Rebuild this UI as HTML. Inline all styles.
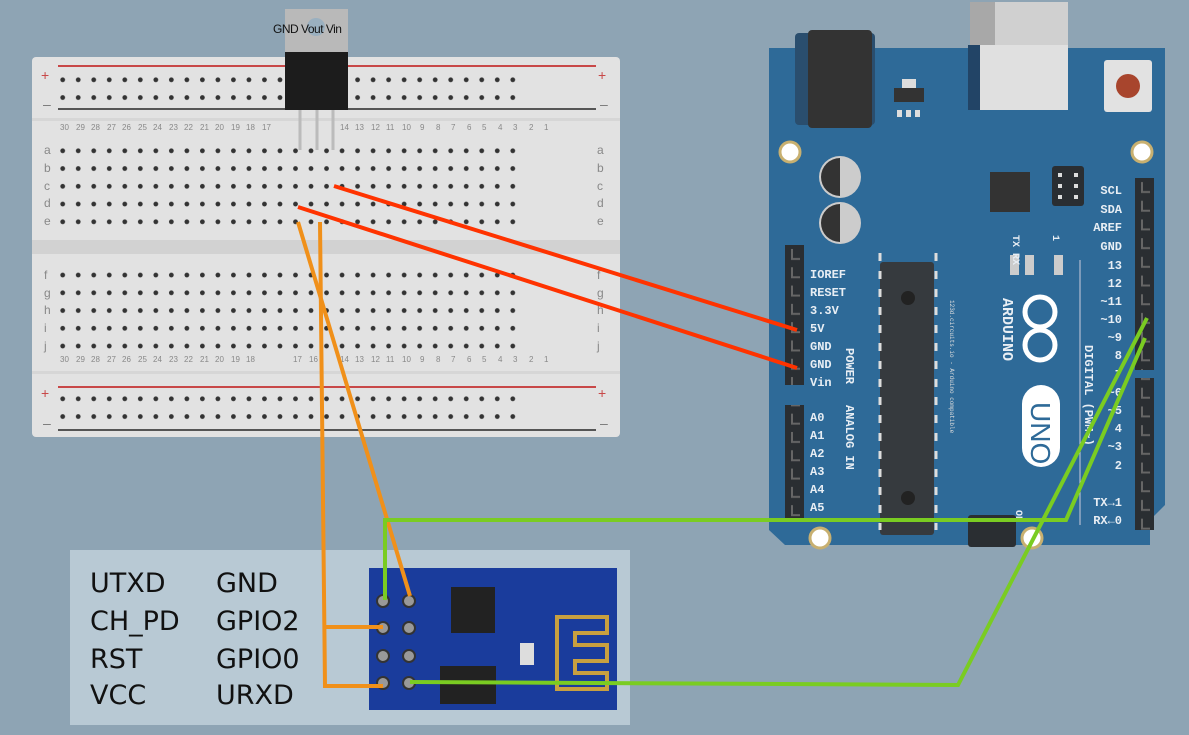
<!DOCTYPE html>
<html><head><meta charset="utf-8"><style>
html,body{margin:0;padding:0;width:1189px;height:735px;overflow:hidden;background:#8ea4b4}
svg{display:block}
.ml{font-family:"Liberation Mono",monospace;font-weight:bold;font-size:12px;fill:#e8eef4}
.nm{font-family:"Liberation Sans",sans-serif;font-size:8px;fill:#888}
.lt{font-family:"Liberation Sans",sans-serif;font-size:12px;fill:#888}
.esp{font-family:"DejaVu Sans","Liberation Sans",sans-serif;font-size:27px;fill:#111}
</style></head><body>
<svg width="1189" height="735" viewBox="0 0 1189 735" xmlns="http://www.w3.org/2000/svg">
<defs>
<pattern id="dots" x="55" y="0" width="15.52" height="17.75" patternUnits="userSpaceOnUse">
<circle cx="7.7" cy="8.8" r="2.4" fill="#333"/></pattern>
<pattern id="hdrL" x="785" y="245" width="19" height="18.3" patternUnits="userSpaceOnUse">
<rect width="19" height="18.3" fill="#2a2e32"/><path d="M7 4v10h8" stroke="#666" fill="none" stroke-width="2"/></pattern>
<pattern id="hdrR" x="1135" y="178" width="19" height="18.7" patternUnits="userSpaceOnUse">
<rect width="19" height="18.7" fill="#2a2e32"/><path d="M7 4v10h8" stroke="#666" fill="none" stroke-width="2"/></pattern>
</defs>
<rect width="1189" height="735" fill="#8ea4b4"/>

<!-- breadboard -->
<rect x="32" y="57" width="588" height="380" rx="4" fill="#e2e2e2"/>
<rect x="32" y="240" width="588" height="14" fill="#d2d2d2"/>
<rect x="32" y="118" width="588" height="3" fill="#d6d6d6"/>
<rect x="32" y="371" width="588" height="3" fill="#d6d6d6"/>
<line x1="58" y1="66" x2="596" y2="66" stroke="#c84848" stroke-width="2"/>
<line x1="58" y1="109" x2="596" y2="109" stroke="#555" stroke-width="2"/>
<line x1="58" y1="387" x2="596" y2="387" stroke="#c84848" stroke-width="2"/>
<line x1="58" y1="430" x2="596" y2="430" stroke="#555" stroke-width="2"/>
<g fill="#c84848" font-family="Liberation Sans" font-size="14"><text x="41" y="80">+</text><text x="598" y="80">+</text><text x="41" y="398">+</text><text x="598" y="398">+</text></g>
<g fill="#777" font-family="Liberation Sans" font-size="14"><text x="43" y="109">–</text><text x="600" y="109">–</text><text x="43" y="428">–</text><text x="600" y="428">–</text></g>
<rect x="55" y="70" width="466" height="36" fill="url(#dots)"/>
<rect x="55" y="141" width="466" height="89" fill="url(#dots)"/>
<rect x="55" y="265" width="466" height="89" fill="url(#dots)"/>
<g transform="translate(0,319)"><rect x="55" y="71" width="466" height="36" fill="url(#dots)"/></g>
<g class="lt">
<text x="44" y="154">a</text><text x="44" y="172">b</text><text x="44" y="190">c</text><text x="44" y="207">d</text><text x="44" y="225">e</text>
<text x="44" y="279">f</text><text x="44" y="297">g</text><text x="44" y="314">h</text><text x="44" y="332">i</text><text x="44" y="350">j</text>
<text x="597" y="154">a</text><text x="597" y="172">b</text><text x="597" y="190">c</text><text x="597" y="207">d</text><text x="597" y="225">e</text>
<text x="597" y="279">f</text><text x="597" y="297">g</text><text x="597" y="314">h</text><text x="597" y="332">i</text><text x="597" y="350">j</text>
</g>
<g class="nm">
<text x="60" y="130">30</text><text x="76" y="130">29</text><text x="91" y="130">28</text><text x="107" y="130">27</text><text x="122" y="130">26</text><text x="138" y="130">25</text><text x="153" y="130">24</text><text x="169" y="130">23</text><text x="184" y="130">22</text><text x="200" y="130">21</text><text x="215" y="130">20</text><text x="231" y="130">19</text><text x="246" y="130">18</text><text x="262" y="130">17</text><text x="340" y="130">14</text><text x="355" y="130">13</text><text x="371" y="130">12</text><text x="386" y="130">11</text><text x="402" y="130">10</text><text x="420" y="130">9</text><text x="436" y="130">8</text><text x="451" y="130">7</text><text x="467" y="130">6</text><text x="482" y="130">5</text><text x="498" y="130">4</text><text x="513" y="130">3</text><text x="529" y="130">2</text><text x="544" y="130">1</text>
<text x="60" y="362">30</text><text x="76" y="362">29</text><text x="91" y="362">28</text><text x="107" y="362">27</text><text x="122" y="362">26</text><text x="138" y="362">25</text><text x="153" y="362">24</text><text x="169" y="362">23</text><text x="184" y="362">22</text><text x="200" y="362">21</text><text x="215" y="362">20</text><text x="231" y="362">19</text><text x="246" y="362">18</text><text x="293" y="362">17</text><text x="309" y="362">16</text><text x="340" y="362">14</text><text x="355" y="362">13</text><text x="371" y="362">12</text><text x="386" y="362">11</text><text x="402" y="362">10</text><text x="420" y="362">9</text><text x="436" y="362">8</text><text x="451" y="362">7</text><text x="467" y="362">6</text><text x="482" y="362">5</text><text x="498" y="362">4</text><text x="513" y="362">3</text><text x="529" y="362">2</text><text x="544" y="362">1</text>
</g>

<!-- regulator -->
<rect x="285" y="9" width="63" height="46" fill="#b9b9b9"/>
<circle cx="316" cy="27" r="9" fill="#9ab0c0"/>
<rect x="285" y="52" width="63" height="58" fill="#1c1c1c"/>
<g stroke="#bbb" stroke-width="3"><line x1="300" y1="110" x2="300" y2="150"/><line x1="317" y1="110" x2="317" y2="150"/><line x1="333" y1="110" x2="333" y2="150"/></g>
<text x="273" y="33" font-family="Liberation Sans" font-size="12" fill="#111" letter-spacing="-0.5">GND Vout Vin</text>

<!-- arduino -->
<rect x="970" y="2" width="98" height="60" fill="#d0d0d0"/>
<rect x="970" y="2" width="25" height="60" fill="#a8a8a8"/>
<polygon points="769,48 1165,48 1165,505 1150,520 1150,545 785,545 769,530" fill="#2e6a98"/>
<rect x="795" y="33" width="80" height="92" rx="4" fill="#2a4e6e"/>
<rect x="808" y="30" width="64" height="98" rx="4" fill="#333"/>
<rect x="970" y="45" width="98" height="65" fill="#e0e0e0"/>
<rect x="968" y="45" width="12" height="65" fill="#224466"/>
<rect x="894" y="88" width="30" height="14" fill="#333"/><rect x="902" y="79" width="14" height="9" fill="#ddd"/>
<g fill="#ddd"><rect x="897" y="110" width="5" height="7"/><rect x="906" y="110" width="5" height="7"/><rect x="915" y="110" width="5" height="7"/></g>
<rect x="1104" y="60" width="48" height="52" rx="3" fill="#e2e2e2"/><circle cx="1128" cy="86" r="12" fill="#a8452d"/>
<g fill="#fff" stroke="#c8b070" stroke-width="3"><circle cx="790" cy="152" r="10"/><circle cx="1142" cy="152" r="10"/><circle cx="820" cy="538" r="10"/><circle cx="1032" cy="538" r="10"/></g>
<g><circle cx="840" cy="177" r="21" fill="#ccc"/><path d="M840 158a19 19 0 0 0 0 38z" fill="#333"/><circle cx="840" cy="223" r="21" fill="#ccc"/><path d="M840 204a19 19 0 0 0 0 38z" fill="#333"/></g>
<rect x="990" y="172" width="40" height="40" fill="#333"/>
<rect x="1052" y="166" width="32" height="40" rx="3" fill="#2a2e32"/>
<g fill="#ddd"><rect x="1058" y="173" width="4" height="4"/><rect x="1074" y="173" width="4" height="4"/><rect x="1058" y="184" width="4" height="4"/><rect x="1074" y="184" width="4" height="4"/><rect x="1058" y="195" width="4" height="4"/><rect x="1074" y="195" width="4" height="4"/></g>
<g fill="#ccc"><rect x="1010" y="255" width="9" height="20"/><rect x="1025" y="255" width="9" height="20"/><rect x="1054" y="255" width="9" height="20"/></g>
<rect x="880" y="262" width="54" height="273" rx="3" fill="#363a3e"/>
<circle cx="908" cy="298" r="7" fill="#222"/><circle cx="908" cy="498" r="7" fill="#222"/>
<g stroke="#ddd" stroke-width="3" stroke-dasharray="8,10"><line x1="880" y1="253" x2="880" y2="530"/><line x1="936" y1="253" x2="936" y2="530"/></g>
<rect x="785" y="245" width="19" height="140" fill="url(#hdrL)"/>
<rect x="785" y="405" width="19" height="115" fill="url(#hdrL)"/>
<rect x="1135" y="178" width="19" height="192" fill="url(#hdrR)"/>
<rect x="1135" y="378" width="19" height="152" fill="url(#hdrR)"/>
<rect x="968" y="515" width="48" height="32" rx="3" fill="#2a2e32"/>
<g class="ml">
<text x="810" y="278">IOREF</text><text x="810" y="296">RESET</text><text x="810" y="314">3.3V</text><text x="810" y="332">5V</text><text x="810" y="350">GND</text><text x="810" y="368">GND</text><text x="810" y="386">Vin</text>
<text x="810" y="421">A0</text><text x="810" y="439">A1</text><text x="810" y="457">A2</text><text x="810" y="475">A3</text><text x="810" y="493">A4</text><text x="810" y="511">A5</text>
</g>
<g class="ml" text-anchor="end">
<text x="1122" y="194">SCL</text><text x="1122" y="213">SDA</text><text x="1122" y="231">AREF</text><text x="1122" y="250">GND</text><text x="1122" y="269">13</text><text x="1122" y="287">12</text><text x="1122" y="305">~11</text><text x="1122" y="323">~10</text><text x="1122" y="341">~9</text><text x="1122" y="359">8</text><text x="1122" y="378">7</text><text x="1122" y="396">~6</text><text x="1122" y="414">~5</text><text x="1122" y="432">4</text><text x="1122" y="450">~3</text><text x="1122" y="469">2</text><text x="1122" y="506">TX→1</text><text x="1122" y="524">RX←0</text>
</g>
<g class="ml"><text transform="translate(846,348) rotate(90)">POWER</text><text transform="translate(846,405) rotate(90)">ANALOG IN</text>
<text transform="translate(1085,345) rotate(90)">DIGITAL (PWM~)</text><text transform="translate(1003,298) rotate(90)" font-size="15">ARDUINO</text>
<text transform="translate(1016,510) rotate(90)" font-size="10">ON</text>
<text transform="translate(1013,235) rotate(90)" font-size="10">TX RX</text><text transform="translate(1053,235) rotate(90)" font-size="10">1</text></g>
<text transform="translate(950,300) rotate(90)" font-family="Liberation Mono" font-size="6" fill="#ddd">123d.circuits.io - Arduino compatible</text>
<g fill="none" stroke="#fff" stroke-width="5"><circle cx="1040" cy="312" r="15"/><circle cx="1040" cy="345" r="15"/></g>
<rect x="1022" y="385" width="38" height="82" rx="19" fill="#fff"/>
<text transform="translate(1031,402) rotate(90)" font-family="Liberation Sans" font-size="28" fill="#2e6a98">UNO</text>
<line x1="1080" y1="260" x2="1080" y2="525" stroke="#ccd" stroke-width="1"/>

<!-- ESP panel -->
<rect x="70" y="550" width="560" height="175" fill="#b8c9d4"/>
<g class="esp">
<text x="90" y="592">UTXD</text><text x="216" y="592">GND</text>
<text x="90" y="630">CH_PD</text><text x="216" y="630">GPIO2</text>
<text x="90" y="668">RST</text><text x="216" y="668">GPIO0</text>
<text x="90" y="704">VCC</text><text x="216" y="704">URXD</text>
</g>
<rect x="369" y="568" width="248" height="142" fill="#1a3c9c"/>
<rect x="451" y="587" width="44" height="46" fill="#222"/>
<rect x="440" y="666" width="56" height="38" fill="#222"/>
<rect x="520" y="643" width="14" height="22" fill="#ddd"/>
<path d="M557 617h50v16h-32v12h32v16h-32v12h32v16h-50z" fill="none" stroke="#c8a040" stroke-width="4"/>
<g fill="#999" stroke="#333" stroke-width="2"><circle cx="383" cy="601" r="6"/><circle cx="409" cy="601" r="6"/><circle cx="383" cy="628" r="6"/><circle cx="409" cy="628" r="6"/><circle cx="383" cy="656" r="6"/><circle cx="409" cy="656" r="6"/><circle cx="383" cy="683" r="6"/><circle cx="409" cy="683" r="6"/></g>

<!-- wires -->
<g fill="none" stroke-width="4" stroke-linejoin="miter">
<line x1="334" y1="186" x2="797" y2="330" stroke="#ff3300"/>
<line x1="298" y1="207" x2="797" y2="368" stroke="#ff3300"/>
<line x1="298" y1="222" x2="410" y2="596" stroke="#f0901a"/>
<polyline points="320,222 325,686 383,686" stroke="#f0901a"/>
<line x1="325" y1="627" x2="383" y2="627" stroke="#f0901a"/>
<polyline points="385,600 385,520 1066,520 1145,338" stroke="#7acc22"/>
<polyline points="410,682 958,685 1147,318" stroke="#7acc22"/>
</g>
</svg>
</body></html>
